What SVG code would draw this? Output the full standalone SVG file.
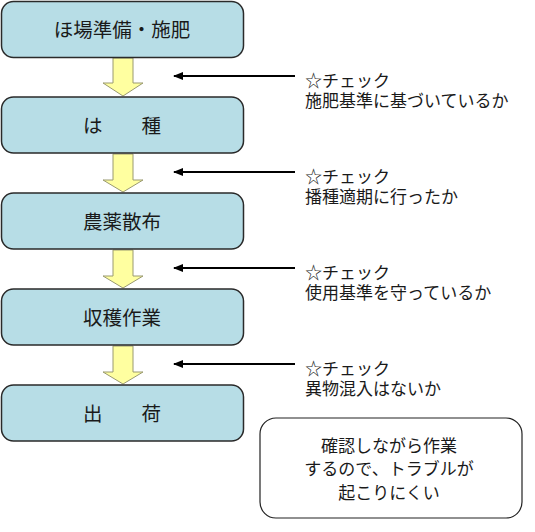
<svg xmlns="http://www.w3.org/2000/svg" width="535" height="532" viewBox="0 0 535 532">
<style>
.box{fill:#B7DDE6;stroke:#2a2a2a;stroke-width:1.5}
.blk{fill:#FFFFA0;stroke:#9a9a70;stroke-width:1}
.t{font-family:"Noto Sans CJK JP","Noto Sans",sans-serif;fill:#1a1a1a}
.bt{font-size:19.5px;text-anchor:middle}
.ct{font-size:17px}
.ln{stroke:#000;stroke-width:2;fill:none}
</style>
<defs>
<marker id="ah" markerWidth="10" markerHeight="8" refX="9" refY="4" orient="auto" markerUnits="userSpaceOnUse">
<path d="M0,0 L10,4 L0,8 Z" fill="#000"/>
</marker>
</defs>
<rect width="535" height="532" fill="#fff"/>
<g id="connectors">
<path class="blk" d="M113,58 H133 V83 H143 L123,96 L103,83 H113 Z"/>
<path class="blk" d="M113,154 H133 V180 H143 L123,192 L103,180 H113 Z"/>
<path class="blk" d="M113,250 H133 V276 H143 L123,288 L103,276 H113 Z"/>
<path class="blk" d="M113,346 H133 V372 H143 L123,384 L103,372 H113 Z"/>
<line class="ln" x1="295" y1="76" x2="174" y2="76" marker-end="url(#ah)"/>
<line class="ln" x1="295" y1="172" x2="174" y2="172" marker-end="url(#ah)"/>
<line class="ln" x1="295" y1="268" x2="174" y2="268" marker-end="url(#ah)"/>
<line class="ln" x1="295" y1="364" x2="174" y2="364" marker-end="url(#ah)"/>
</g>
<g id="n1"><rect class="box" x="1.5" y="1.5" width="242" height="56" rx="12"/><text class="t bt" x="122" y="36.5">ほ場準備・施肥</text></g>
<g id="n2"><rect class="box" x="1.5" y="97" width="242" height="56" rx="12"/><text class="t bt" x="122" y="132.5">は　　種</text></g>
<g id="n3"><rect class="box" x="1.5" y="193" width="242" height="56" rx="12"/><text class="t bt" x="122" y="228.5">農薬散布</text></g>
<g id="n4"><rect class="box" x="1.5" y="289" width="242" height="56" rx="12"/><text class="t bt" x="122" y="324.5">収穫作業</text></g>
<g id="n5"><rect class="box" x="1.5" y="385" width="242" height="56" rx="12"/><text class="t bt" x="122" y="420.5">出　　荷</text></g>
<g id="c1"><text class="t ct" x="305" y="86.5">☆チェック</text><text class="t ct" x="305" y="106.5">施肥基準に基づいているか</text></g>
<g id="c2"><text class="t ct" x="305" y="182.5">☆チェック</text><text class="t ct" x="305" y="202.5">播種適期に行ったか</text></g>
<g id="c3"><text class="t ct" x="305" y="278.5">☆チェック</text><text class="t ct" x="305" y="298.5">使用基準を守っているか</text></g>
<g id="c4"><text class="t ct" x="305" y="374.5">☆チェック</text><text class="t ct" x="305" y="394.5">異物混入はないか</text></g>
<g id="note"><rect x="260" y="418" width="262" height="100" rx="16" fill="#fff" stroke="#222" stroke-width="1.2"/>
<text class="t" font-size="17" text-anchor="middle" x="389" y="451.5">確認しながら作業</text>
<text class="t" font-size="17" text-anchor="middle" x="389" y="475">するので、トラブルが</text>
<text class="t" font-size="17" text-anchor="middle" x="389" y="499">起こりにくい</text></g>
</svg>
